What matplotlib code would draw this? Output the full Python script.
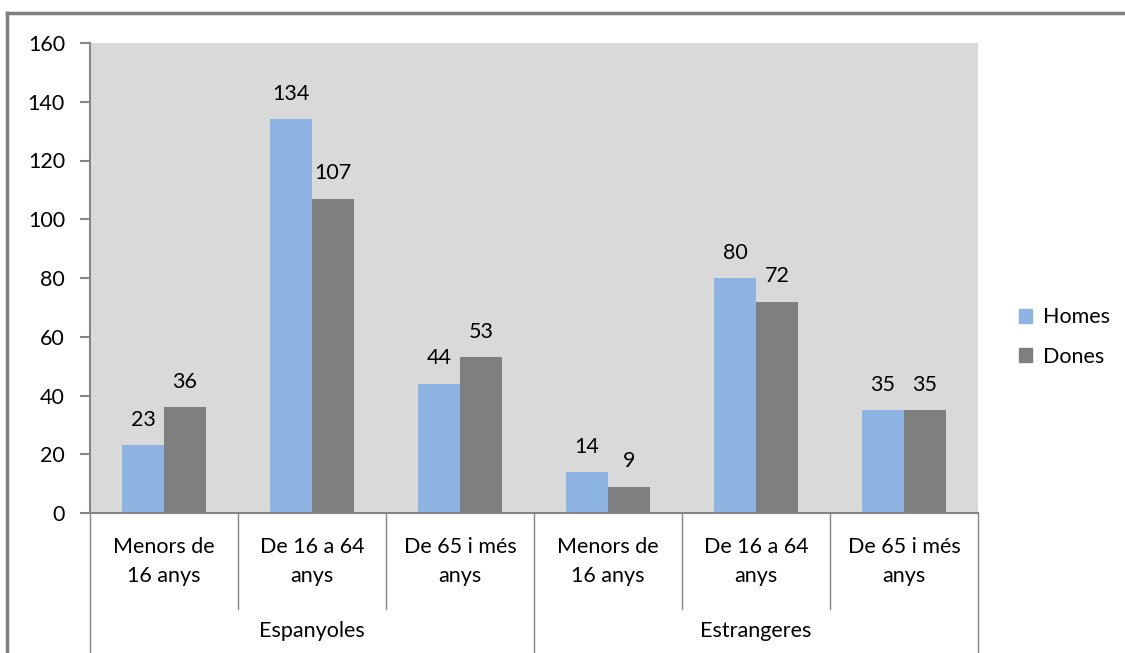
import matplotlib
matplotlib.use("Agg")
import matplotlib.pyplot as plt
from matplotlib.lines import Line2D
from matplotlib.patches import Patch
import numpy as np

# ---- data -----------------------------------------------------------------
categories = ["Menors de\n16 anys", "De 16 a 64\nanys", "De 65 i més\nanys",
              "Menors de\n16 anys", "De 16 a 64\nanys", "De 65 i més\nanys"]
groups = ["Espanyoles", "Estrangeres"]
homes = [23, 134, 44, 14, 80, 35]
dones = [36, 107, 53, 9, 72, 35]
yticks = [0, 20, 40, 60, 80, 100, 120, 140, 160]

# ---- style ----------------------------------------------------------------
plt.rcParams["font.family"] = ["Lato", "DejaVu Sans"]
FS = 15.5
C_HOMES = "#8DB3E2"
C_DONES = "#7F7F7F"
C_BG = "#D9D9D9"
C_LINE = "#868686"
W, H = 1125, 653

fig = plt.figure(figsize=(W / 100, H / 100), dpi=100)
ax = fig.add_axes([90 / W, 1 - 513 / H, (978 - 90) / W, (513 - 43) / H])
ax.set_facecolor(C_BG)

x = np.arange(len(categories))
bw = 0.284
b1 = ax.bar(x - bw / 2, homes, bw, color=C_HOMES, label="Homes")
b2 = ax.bar(x + bw / 2, dones, bw, color=C_DONES, label="Dones")

for bars, vals in ((b1, homes), (b2, dones)):
    for rect, v in zip(bars, vals):
        ax.annotate(str(v), (rect.get_x() + rect.get_width() / 2, v),
                    xytext=(0, 11), textcoords="offset points",
                    ha="center", va="bottom", fontsize=FS, color="black")

ax.set_xlim(-0.5, len(categories) - 0.5)
ax.set_ylim(0, 160)
ax.set_yticks(yticks)
ax.tick_params(axis="y", length=7, width=1.5, color=C_LINE, pad=11,
               labelsize=FS)
ax.set_xticks(x)
ax.set_xticklabels(categories, fontsize=FS, linespacing=1.6)
ax.tick_params(axis="x", length=0, pad=17)

for s in ("top", "right"):
    ax.spines[s].set_visible(False)
for s in ("left", "bottom"):
    ax.spines[s].set_color(C_LINE)
    ax.spines[s].set_linewidth(1.5)

# separators under the axis (category and group level)
ah = 513 - 43
short_y = -(609 - 513) / ah
long_y = -(653 - 513) / ah
trans = ax.get_xaxis_transform()
for i, b in enumerate(np.arange(-0.5, len(categories), 1.0)):
    y_end = long_y if i % 3 == 0 else short_y
    ax.add_line(Line2D([b, b], [0, y_end], transform=trans, color=C_LINE,
                       lw=1, clip_on=False))

for gi, g in enumerate(groups):
    ax.text(gi * 3 + 1, -(631 - 513) / ah, g, transform=trans,
            ha="center", va="center", fontsize=FS)

# legend
handles = [Patch(color=C_HOMES), Patch(color=C_DONES)]
fig.legend(handles, ["Homes", "Dones"], loc="center left",
           bbox_to_anchor=(1000 / W, 1 - 337 / H), frameon=False,
           fontsize=FS, handlelength=0.6, handleheight=0.6,
           handletextpad=0.5, labelspacing=0.9)

# outer chart border
fig.add_artist(Line2D([7 / W, 7 / W], [0, 1 - 13 / H], color="#7F7F7F", lw=2.5))
fig.add_artist(Line2D([7 / W, 1], [1 - 13 / H, 1 - 13 / H], color="#7F7F7F", lw=2.5))

fig.savefig("out.png", dpi=100)
